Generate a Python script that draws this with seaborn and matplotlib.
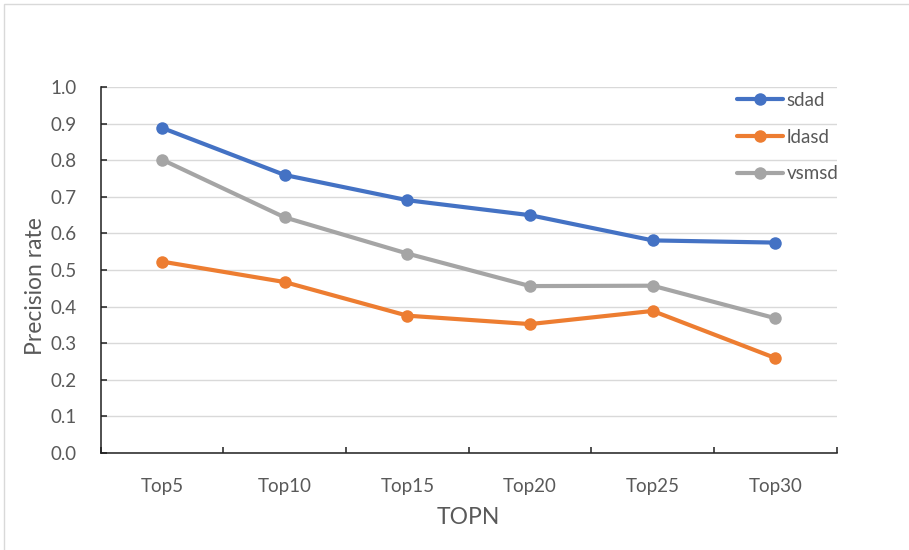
import matplotlib
matplotlib.use("Agg")
import matplotlib.pyplot as plt
import matplotlib.patches as mpatches
from matplotlib.ticker import FixedLocator
import numpy as np
import pandas as pd
import seaborn as sns

# Precision at each TOP-N cutoff for the three methods
categories = ["Top5", "Top10", "Top15", "Top20", "Top25", "Top30"]
sdad = [0.889, 0.760, 0.691, 0.650, 0.581, 0.575]
ldasd = [0.523, 0.467, 0.375, 0.352, 0.388, 0.259]
vsmsd = [0.802, 0.644, 0.545, 0.456, 0.457, 0.368]
series_names = ["sdad", "ldasd", "vsmsd"]
colors = ["#4472C4", "#ED7D31", "#A5A5A5"]
y_ticks = [0.0, 0.1, 0.2, 0.3, 0.4, 0.5, 0.6, 0.7, 0.8, 0.9, 1.0]

df = pd.DataFrame({
    "TOPN": categories * 3,
    "value": sdad + ldasd + vsmsd,
    "series": [s for s in series_names for _ in categories],
})

sns.set_theme(style="white")
plt.rcParams["font.family"] = ["Lato", "DejaVu Sans"]

W, H = 909, 550
fig = plt.figure(figsize=(W / 100, H / 100), dpi=100)
ax = fig.add_axes([100.7 / W, 1 - 452.7 / H, (836.7 - 100.7) / W, (452.7 - 87.3) / H])

sns.lineplot(
    data=df, x="TOPN", y="value", hue="series", hue_order=series_names,
    palette=colors, marker="o", markersize=9, markeredgewidth=0,
    linewidth=3.0, sort=False, ax=ax, legend=True,
)

ax.set_xlim(-0.5, len(categories) - 0.5)
ax.set_ylim(0, 1.0)
ax.yaxis.set_major_locator(FixedLocator(y_ticks))
ax.set_yticklabels([f"{t:.1f}" for t in y_ticks])
ax.xaxis.set_minor_locator(FixedLocator(np.arange(-0.5, len(categories), 1.0)))

ax.grid(axis="y", color="#d9d9d9", linewidth=1.0)
ax.set_axisbelow(True)
for side in ("top", "right"):
    ax.spines[side].set_visible(False)
for side in ("left", "bottom"):
    ax.spines[side].set_color("#1f1f1f")
    ax.spines[side].set_linewidth(1.1)

label_color = "#595959"
ax.tick_params(axis="y", direction="in", length=4.5, width=1.1, color="#1f1f1f",
               labelsize=13.5, labelcolor=label_color, pad=17, left=True)
ax.tick_params(axis="x", which="major", length=0, labelsize=13.5,
               labelcolor=label_color, pad=18)
ax.tick_params(axis="x", which="minor", direction="in", length=4.5, width=1.1,
               color="#1f1f1f", bottom=True)

ax.set_xlabel("")
ax.set_ylabel("")
fig.text(35 / W, 1 - 286 / H, "Precision rate", rotation=90, ha="center",
         va="center", fontsize=16.5, color=label_color)
fig.text(468.7 / W, 1 - 518 / H, "TOPN", ha="center", va="center",
         fontsize=16.5, color=label_color)

handles, labels = ax.get_legend_handles_labels()
leg = ax.legend(handles, labels, loc="upper left",
                bbox_to_anchor=(737 / W, 1 - 92 / H), bbox_transform=fig.transFigure,
                frameon=False, fontsize=13.5, handlelength=2.45, handletextpad=0.2,
                labelspacing=1.05, borderpad=0, borderaxespad=0)
for t in leg.get_texts():
    t.set_color(label_color)

# light chart-area border
fig.add_artist(mpatches.Rectangle((4 / W, -0.05), 1.1, 1 - 4 / H + 0.05,
                                  transform=fig.transFigure, fill=False,
                                  edgecolor="#d9d9d9", linewidth=1.0))

fig.savefig("out.png", dpi=100)
